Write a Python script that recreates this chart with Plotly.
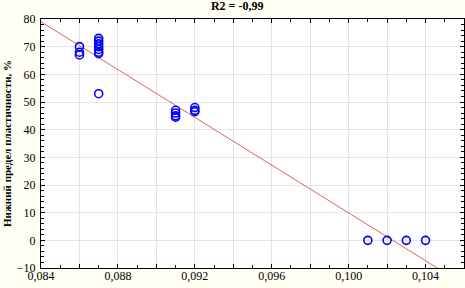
import plotly.graph_objects as go

# data
x_vals = [0.086, 0.086, 0.086,
          0.087, 0.087, 0.087, 0.087, 0.087, 0.087, 0.087, 0.087,
          0.091, 0.091, 0.091, 0.091,
          0.092, 0.092, 0.092,
          0.101, 0.102, 0.103, 0.104]
y_vals = [70, 68, 67,
          73, 72, 71, 70, 69, 68, 67.5, 53,
          47, 46, 45, 44.5,
          48, 47, 46.5,
          0, 0, 0, 0]
fit_x = [0.084, 0.106]
fit_intercept = 79.0   # value at x = 0.084
fit_slope = -4318.0
fit_y = [fit_intercept + fit_slope * (v - 0.084) for v in fit_x]

x_tickvals = [0.084, 0.086, 0.088, 0.090, 0.092, 0.094, 0.096, 0.098, 0.100, 0.102, 0.104, 0.106]
x_ticktext = ["0,084", "", "0,088", "", "0,092", "", "0,096", "", "0,100", "", "0,104", ""]
y_tickvals = [-10, 0, 10, 20, 30, 40, 50, 60, 70, 80]

fig = go.Figure()
fig.add_trace(go.Scatter(x=fit_x, y=fit_y, mode="lines",
                         line=dict(color="#E06060", width=1), hoverinfo="skip"))
fig.add_trace(go.Scatter(x=x_vals, y=y_vals, mode="markers",
                         marker=dict(symbol="circle-open", size=8, color="#0000FF",
                                     line=dict(width=1.6, color="#0000FF"))))

font_serif = "Liberation Serif"
fig.update_layout(
    width=465, height=288,
    margin=dict(l=41, r=1, t=19, b=20, autoexpand=False),
    paper_bgcolor="#FFFEF2",
    plot_bgcolor="#FFFFFF",
    showlegend=False,
    separators=", ",
    title=dict(text="<b>R2 = -0,99</b>", x=0.51, xanchor="center", y=0.995, yanchor="top",
               font=dict(family=font_serif, size=12, color="#000000"), automargin=False),
    font=dict(family=font_serif, size=12, color="#000000"),
)
fig.update_xaxes(range=[0.084, 0.106], tickvals=x_tickvals, ticktext=x_ticktext,
                 showgrid=True, gridcolor="#E4E4E4", gridwidth=1,
                 ticks="inside", ticklen=4, tickcolor="#000000",
                 minor=dict(dtick=0.001, ticks="inside", ticklen=3, tickcolor="#000000", showgrid=False),
                 showline=True, linecolor="#000000", linewidth=1, mirror="ticks",
                 zeroline=False, tickfont=dict(family=font_serif, size=12), automargin=False,
                 ticklabelstandoff=-3)
fig.update_yaxes(range=[-10, 80], tickvals=y_tickvals,
                 showgrid=True, gridcolor="#E4E4E4", gridwidth=1,
                 ticks="inside", ticklen=4, tickcolor="#000000",
                 minor=dict(dtick=2, ticks="inside", ticklen=3, tickcolor="#000000", showgrid=False),
                 showline=True, linecolor="#000000", linewidth=1, mirror="ticks",
                 zeroline=False, tickfont=dict(family=font_serif, size=12), automargin=False,
                 ticklabelstandoff=2,
                 title=dict(text="<b>Нижний предел пластичности, %</b>", standoff=2,
                            font=dict(family=font_serif, size=11)))

fig.write_html("out.html", config={"displayModeBar": False},
               post_script="document.body.style.margin='0';document.body.style.padding='0';document.body.style.overflow='hidden';")
